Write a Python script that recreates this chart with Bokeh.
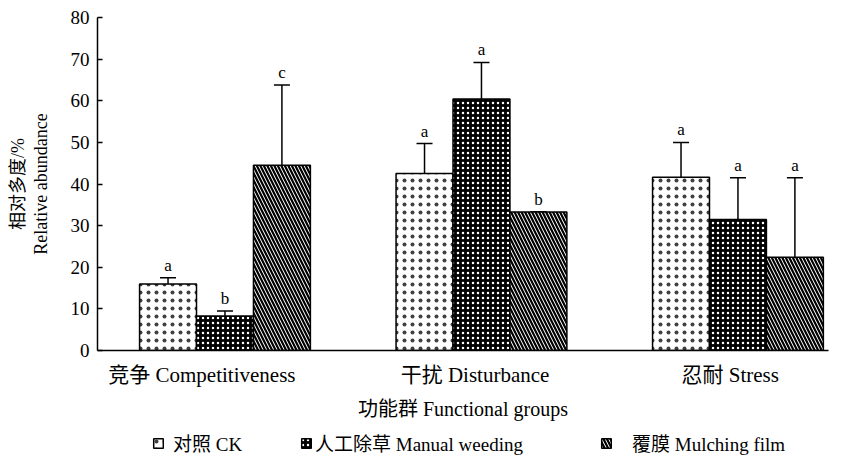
from bokeh.plotting import figure
from bokeh.layouts import column
from bokeh.models import (ColumnDataSource, Range1d, FixedTicker, Whisker, TeeHead,
                          Legend, LegendItem, LinearAxis)
from bokeh.core.properties import value
from bokeh.embed import file_html
from bokeh.resources import INLINE

# ---- data ----
categories = ["竞争 Competitiveness", "干扰 Disturbance", "忍耐 Stress"]
series_names = ["对照 CK", "人工除草 Manual weeding", "覆膜 Mulching film"]
ck = [16.0, 42.5, 41.6]
ck_sd = [1.5, 7.2, 8.4]
weed = [8.3, 60.4, 31.5]
weed_sd = [1.2, 8.8, 10.0]
mulch = [44.5, 33.3, 22.4]
mulch_sd = [19.3, 0.0, 19.1]
ck_letters = ["a", "a", "a"]
weed_letters = ["b", "a", "a"]
mulch_letters = ["c", "b", "a"]
label_pos = [-0.09, 0.975, 1.97]
y_ticks = [0, 10, 20, 30, 40, 50, 60, 70, 80]
y_title_cn = "相对多度/%"
y_title_en = "Relative abundance"
x_title = "功能群 Functional groups"

SERIF = "Liberation Serif, Times New Roman, Noto Sans CJK SC, serif"
BAR_W = 0.222

styles = [
    dict(fill_color="white", hatch_pattern="dot", hatch_color="black", hatch_scale=8,
         hatch_weight=0.1, hatch_alpha=0.75),
    dict(fill_color="black", hatch_pattern="dot", hatch_color="white", hatch_scale=5, hatch_weight=0.4),
    dict(fill_color="white", hatch_pattern="left_diagonal_line", hatch_color="black",
         hatch_scale=7, hatch_weight=2.2),
]

p = figure(width=850, height=425, output_backend="svg", toolbar_location=None,
           x_range=Range1d(-0.497, 2.353), y_range=Range1d(0, 80),
           min_border_left=97, min_border_right=22, min_border_top=17, min_border_bottom=75)
p.outline_line_color = None
p.grid.visible = False

series = [
    (ck, ck_sd, ck_letters, -BAR_W),
    (weed, weed_sd, weed_letters, 0.0),
    (mulch, mulch_sd, mulch_letters, BAR_W),
]

for (vals, sds, letters, off), style in zip(series, styles):
    xs = [i + off for i in range(len(categories))]
    src = ColumnDataSource(dict(x=xs, top=vals,
                                upper=[v + s for v, s in zip(vals, sds)],
                                lower=[v - s for v, s in zip(vals, sds)],
                                letter=letters))
    p.vbar(x="x", top="top", bottom=0, width=BAR_W, source=src,
           line_color="black", line_width=1.5, **style)
    w = Whisker(base="x", upper="upper", lower="lower", source=src,
                line_color="black", line_width=1.5,
                upper_head=TeeHead(size=16, line_color="black", line_width=1.5),
                lower_head=TeeHead(size=16, line_color="black", line_width=1.5))
    p.add_layout(w)
    p.text(x="x", y="upper", text="letter", source=src, text_align="center",
           text_baseline="bottom", y_offset=-3, text_font=value(SERIF),
           text_font_size="17px", text_color="black")

# axes
p.yaxis.ticker = FixedTicker(ticks=y_ticks)
p.yaxis.major_tick_in = 5
p.yaxis.major_tick_out = 0
p.yaxis.minor_tick_line_color = None
p.yaxis.axis_line_width = 1.5
p.yaxis.major_tick_line_width = 1.5
p.yaxis.major_label_text_font = SERIF
p.yaxis.major_label_text_font_size = "19px"
p.yaxis.major_label_text_color = "black"
p.yaxis.major_label_standoff = 8
p.yaxis.axis_label = y_title_en
p.yaxis.axis_label_text_font = SERIF
p.yaxis.axis_label_text_font_size = "18px"
p.yaxis.axis_label_text_font_style = "normal"
p.yaxis.axis_label_text_color = "black"
p.yaxis.axis_label_standoff = 17

# outer (label-only) axis carrying the Chinese title line
cn_axis = LinearAxis(ticker=FixedTicker(ticks=[]), axis_label=y_title_cn,
                     axis_line_color=None, major_tick_line_color=None, minor_tick_line_color=None,
                     major_tick_in=0, major_tick_out=0, minor_tick_in=0, minor_tick_out=0,
                     major_label_standoff=0, axis_label_standoff=0,
                     axis_label_text_font=SERIF, axis_label_text_font_size="18px",
                     axis_label_text_font_style="normal", axis_label_text_color="black")
p.add_layout(cn_axis, "left")

p.xaxis.ticker = FixedTicker(ticks=label_pos)
p.xaxis.major_label_overrides = {t: c for t, c in zip(label_pos, categories)}
p.xaxis.major_tick_line_color = None
p.xaxis.minor_tick_line_color = None
p.xaxis.axis_line_width = 1.5
p.xaxis.major_label_text_font = SERIF
p.xaxis.major_label_text_font_size = "21px"
p.xaxis.major_label_text_color = "black"
p.xaxis.major_label_standoff = 6
p.xaxis.axis_label = x_title
p.xaxis.axis_label_text_font = SERIF
p.xaxis.axis_label_text_font_size = "20px"
p.xaxis.axis_label_text_font_style = "normal"
p.xaxis.axis_label_text_color = "black"
p.xaxis.axis_label_standoff = 8

# legend strip (separate figure below the chart; its frame is aligned with the chart's frame)
q = figure(width=850, height=33, output_backend="svg", toolbar_location=None,
           x_range=Range1d(0, 1), y_range=Range1d(0, 1),
           min_border=0, min_border_left=0, min_border_right=0,
           min_border_top=0, min_border_bottom=0)
q.axis.visible = False
q.grid.visible = False
q.outline_line_color = None

legend_x = [55, 203, 503]
legend_standoff = [9, 3, 20]
nan = float("nan")
for name, style, lx, so in zip(series_names, styles, legend_x, legend_standoff):
    # proxy renderer with no drawable bar; only its legend swatch is seen
    r = q.vbar(x=[0.5], top=[nan], bottom=[nan], width=0.1, line_color="black", line_width=1.5, **style)
    lg = Legend(items=[LegendItem(label=name, renderers=[r])], location=(lx, 2),
                orientation="horizontal", glyph_width=12, glyph_height=12, label_height=22,
                label_standoff=so, label_text_font=SERIF, label_text_font_size="19px",
                label_text_color="black", padding=0, margin=0, spacing=0,
                border_line_color=None, background_fill_alpha=0)
    q.add_layout(lg, "center")

layout = column(p, q, spacing=0)
open("out.html", "w").write(file_html(layout, INLINE))
